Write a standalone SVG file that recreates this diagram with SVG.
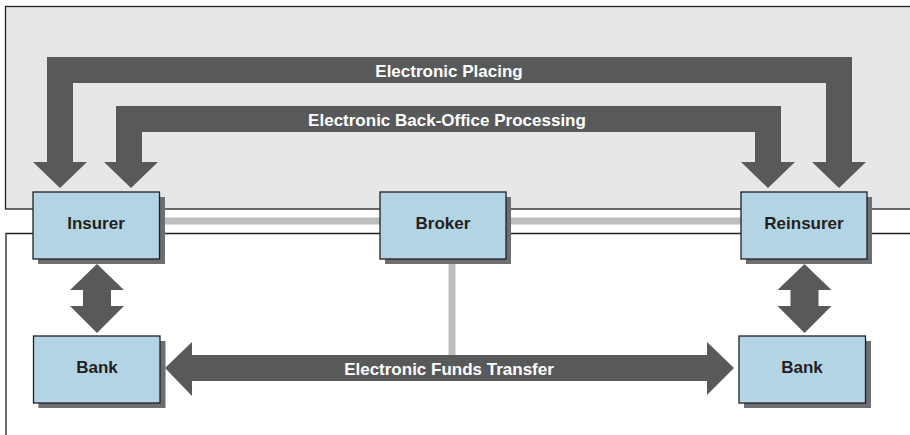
<svg xmlns="http://www.w3.org/2000/svg" width="910" height="435" viewBox="0 0 910 435">
<style>
.panel{stroke:#231f20;stroke-width:1.3}
.box{fill:#b3d4e4;stroke:#231f20;stroke-width:1.3}
.shadow{fill:#6d6e71}
.lbl{font-family:"Liberation Sans",Arial,sans-serif;font-weight:bold;font-size:17px;fill:#231f20;text-anchor:middle}
.alb{font-family:"Liberation Sans",Arial,sans-serif;font-weight:bold;font-size:17px;fill:#ffffff;text-anchor:middle}
.arrow{fill:#58595b}
.link{stroke:#bcbec0;stroke-width:7;fill:none}
</style>
<rect width="910" height="435" fill="#ffffff"/>
<g id="panels">
<rect class="panel" x="5.5" y="6.5" width="906" height="202.5" fill="#e6e7e8"/>
<path class="panel" d="M6,436 V233.5 H911" fill="#ffffff"/>
</g>
<g id="connectors">
<line class="link" x1="160" y1="221" x2="381" y2="221"/>
<line class="link" x1="506" y1="221" x2="741" y2="221"/>
<line class="link" x1="452" y1="259" x2="452" y2="356"/>
<polygon class="arrow" points="60,188 33,162 47,162 47,57 852,57 852,162 866,162 839,188 812,162 826,162 826,83 73,83 73,162 87,162"/>
<polygon class="arrow" points="131,188 104,162 116,162 116,106 781,106 781,162 795,162 768,188 741,162 755,162 755,132 142,132 142,162 158,162"/>
<polygon class="arrow" points="97,264 124,290 111,290 111,306 124,306 97,333 70,306 83,306 83,290 70,290"/>
<polygon class="arrow" points="804.5,264 831.5,290 818.5,290 818.5,306 831.5,306 804.5,333 777.5,306 790.5,306 790.5,290 777.5,290"/>
<polygon class="arrow" points="165,368 192,342 192,355 707,355 707,342 734,368 707,395 707,381 192,381 192,396"/>
<text class="alb" x="449" y="77">Electronic Placing</text>
<text class="alb" x="447" y="126">Electronic Back-Office Processing</text>
<text class="alb" x="449" y="375">Electronic Funds Transfer</text>
</g>
<g id="insurer">
<rect class="shadow" x="38" y="197" width="127" height="67"/>
<rect class="box" x="33" y="192" width="126.5" height="67"/>
<text class="lbl" x="96" y="229">Insurer</text>
</g>
<g id="broker">
<rect class="shadow" x="385" y="197" width="126" height="67"/>
<rect class="box" x="380" y="192" width="126" height="67"/>
<text class="lbl" x="443" y="229">Broker</text>
</g>
<g id="reinsurer">
<rect class="shadow" x="746" y="197" width="126" height="67"/>
<rect class="box" x="741" y="192" width="126" height="67"/>
<text class="lbl" x="804" y="229">Reinsurer</text>
</g>
<g id="bank-left">
<rect class="shadow" x="38.5" y="341" width="127" height="67"/>
<rect class="box" x="33.5" y="336" width="126.5" height="67"/>
<text class="lbl" x="97" y="373">Bank</text>
</g>
<g id="bank-right">
<rect class="shadow" x="744" y="341" width="127" height="67"/>
<rect class="box" x="739" y="336" width="126.5" height="67"/>
<text class="lbl" x="802" y="373">Bank</text>
</g>
</svg>
